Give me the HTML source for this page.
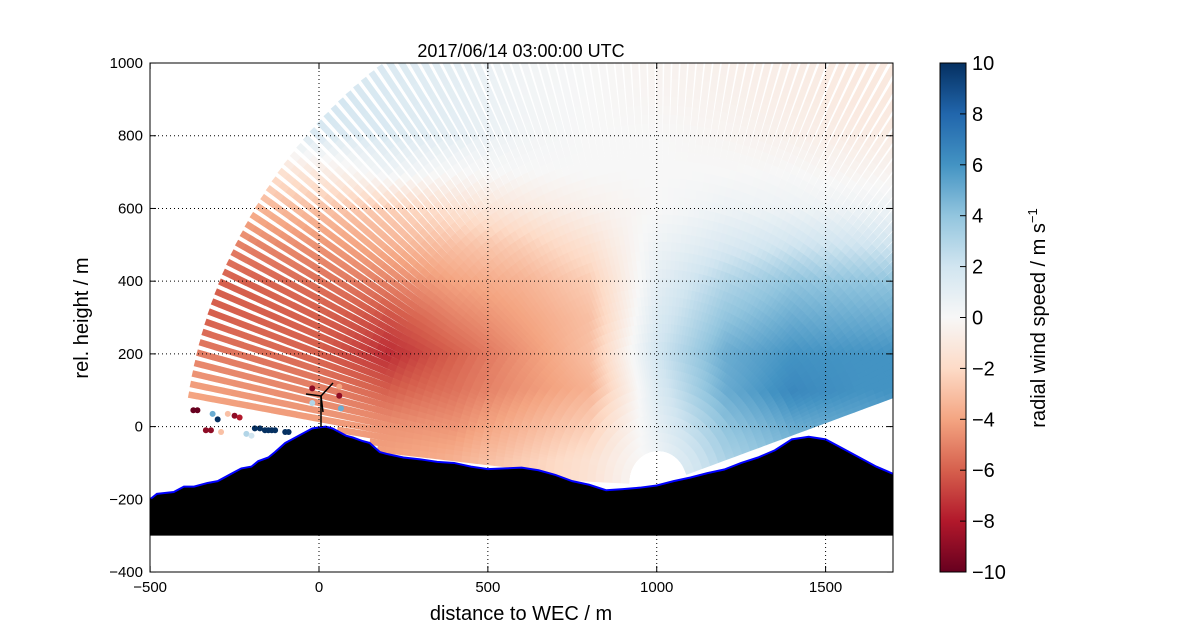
<!DOCTYPE html>
<html><head><meta charset="utf-8"><style>
body{margin:0;background:#fff;}
svg{display:block;font-family:"Liberation Sans",sans-serif;}
</style></head><body>
<svg id="chart" width="1200" height="636" viewBox="0 0 1200 636">
<defs>
<clipPath id="plotclip"><rect x="150" y="63" width="743" height="509"/></clipPath>
<linearGradient id="cbgrad" x1="0" y1="1" x2="0" y2="0">
<stop offset="0" stop-color="rgb(103,0,31)"/><stop offset="0.1" stop-color="rgb(178,24,43)"/>
<stop offset="0.2" stop-color="rgb(214,96,77)"/><stop offset="0.3" stop-color="rgb(244,165,130)"/>
<stop offset="0.4" stop-color="rgb(253,219,199)"/><stop offset="0.5" stop-color="rgb(247,247,247)"/>
<stop offset="0.6" stop-color="rgb(209,229,240)"/><stop offset="0.7" stop-color="rgb(146,197,222)"/>
<stop offset="0.8" stop-color="rgb(67,147,195)"/><stop offset="0.9" stop-color="rgb(33,102,172)"/>
<stop offset="1" stop-color="rgb(5,48,97)"/>
</linearGradient>
</defs>
<text x="521" y="57" font-size="18" text-anchor="middle">2017/06/14 03:00:00 UTC</text>
<g id="field" clip-path="url(#plotclip)"></g>
<g id="terrain" clip-path="url(#plotclip)"></g>
<g id="dots"></g>
<g id="turbine" stroke="#000" stroke-width="1.5">
<line x1="321" y1="427" x2="321" y2="396"/><line x1="321" y1="396" x2="333" y2="383"/><line x1="321" y1="396" x2="306" y2="394"/><line x1="321" y1="396" x2="323" y2="412"/>
</g>
<g id="grid"></g>
<rect x="150" y="63" width="743" height="509" fill="none" stroke="#000" stroke-width="1"/>
<g id="axes" font-size="15"></g>
<text x="521" y="620" font-size="20" text-anchor="middle">distance to WEC / m</text>
<text transform="translate(88,318) rotate(-90)" font-size="20" text-anchor="middle">rel. height / m</text>
<rect x="940" y="63" width="26" height="509" fill="url(#cbgrad)" stroke="#000" stroke-width="1"/>
<g id="cbticks" font-size="20"></g>
<text transform="translate(1045,318) rotate(-90)" font-size="20" text-anchor="middle">radial wind speed / m s<tspan dy="-8" font-size="13">−1</tspan></text>
</svg>
<script>
const xCols = [-400,-200,0,200,400,600,800,1000,1200,1400,1600];
const hRows = [-100,0,100,200,300,400,500,600,700,800,900,1000];
const windRows = [
[-3,-3.5,-4,-4,-3.5,-2.5,-1.5,0.5,3,4,4],
[-3.5,-3.8,-4,-4.5,-4.5,-3.5,-2.5,1,4,5,5],
[-4,-4.5,-5,-6,-5.5,-4.5,-3.5,1.5,5,6.5,6],
[-5,-5.5,-6,-7.5,-6,-4.5,-3,2,5,6,6],
[-6,-6,-6,-6.5,-5,-4,-3,1.5,4,5,5],
[-6,-6,-5.5,-5,-4,-3.5,-2.5,1,3,4,4],
[-5,-5,-4.5,-3.5,-3,-2.5,-1.5,0.5,1.5,2,2],
[-3.5,-3.5,-3,-2.5,-1.5,-1,-0.5,0,0.5,0.5,0.5],
[-2,-2,-1,0.5,0,0,0,0,0,0,-0.3],
[1,1,1.5,1.5,1,0.3,0,0,-0.2,-0.5,-0.8],
[1.5,1.5,2,1.5,1,0.3,0,-0.2,-0.4,-0.7,-1],
[1.5,1.5,1.5,1.5,1,0.3,0,-0.3,-0.5,-0.7,-1]
];
const scanOrigin = [1004,-152];
const scanAngles = [19,178];
const scanRange = 1400;
const terrainX = [-500,-480,-430,-400,-370,-330,-300,-270,-250,-230,-200,-180,-150,-130,-100,-80,-50,-20,0,20,40,60,80,100,130,150,180,200,250,300,350,400,450,500,550,600,650,700,750,800,850,900,950,1000,1050,1100,1150,1200,1250,1300,1350,1400,1450,1500,1550,1600,1650,1700];
const terrainH = [-200,-185,-180,-165,-165,-155,-150,-135,-125,-115,-110,-95,-85,-70,-45,-35,-20,-5,-2,0,-5,-15,-25,-30,-40,-45,-70,-75,-85,-90,-97,-100,-110,-117,-115,-113,-120,-133,-150,-160,-175,-172,-168,-162,-150,-140,-128,-118,-100,-85,-65,-35,-28,-35,-60,-85,-110,-130];
const dotX = [-372,-360,-335,-320,-315,-300,-290,-270,-250,-235,-215,-190,-175,-160,-150,-140,-130,-100,-90,-200,-20,60,65,-20,60];
const dotH = [45,45,-10,-10,35,20,-15,35,30,25,-20,-5,-5,-10,-10,-10,-10,-15,-15,-25,105,85,50,65,110];
const dotV = [-10,-10,-9,-9,5,10,-3,-3,-9,-8,3,10,10,10,10,10,10,10,10,2,-9,-9,5,3,-4];
const xTicks = [-500,0,500,1000,1500];
const yTicks = [-400,-200,0,200,400,600,800,1000];
const cbTicks = [-10,-8,-6,-4,-2,0,2,4,6,8,10];

const NS="http://www.w3.org/2000/svg";
const X = x => 319 + x*0.33773;
const Y = h => 426.6 - h*0.36357;
const cmapStops = [[103,0,31],[178,24,43],[214,96,77],[244,165,130],[253,219,199],[247,247,247],[209,229,240],[146,197,222],[67,147,195],[33,102,172],[5,48,97]];
function cmap(v){
  let t=(Math.max(-10,Math.min(10,v))+10)/20*10;
  let i=Math.min(9,Math.floor(t)), f=t-i;
  const a=cmapStops[i],b=cmapStops[i+1];
  return `rgb(${Math.round(a[0]+(b[0]-a[0])*f)},${Math.round(a[1]+(b[1]-a[1])*f)},${Math.round(a[2]+(b[2]-a[2])*f)})`;
}
function idx(arr,v){
  if(v<=arr[0]) return [0,0];
  if(v>=arr[arr.length-1]) return [arr.length-2,1];
  for(let i=0;i<arr.length-1;i++) if(v<=arr[i+1]) return [i,(v-arr[i])/(arr[i+1]-arr[i])];
}
function wind(x,h){
  const [i,fx]=idx(xCols,x), [j,fy]=idx(hRows,h);
  const a=windRows[j][i],b=windRows[j][i+1],c=windRows[j+1][i],d=windRows[j+1][i+1];
  return (a*(1-fx)+b*fx)*(1-fy)+(c*(1-fx)+d*fx)*fy;
}
function ground(x){
  const [i,f]=idx(terrainX,x);
  return terrainH[i]*(1-f)+terrainH[i+1]*f;
}
function el(tag,attrs,parent){const e=document.createElementNS(NS,tag);for(const k in attrs)e.setAttribute(k,attrs[k]);parent.appendChild(e);return e;}

// field rays
const field=document.getElementById('field');
for(let a=scanAngles[0]; a<=scanAngles[1]; a+=1.2){
  const rad=a*Math.PI/180, cx=Math.cos(rad), cy=Math.sin(rad);
  const g=el('g',{},field);
  
  
  for(let r=85;r<scanRange;r+=25){
    const rm=r+12.5;
    const xm=scanOrigin[0]+cx*rm, hm=scanOrigin[1]+cy*rm;
    if(hm < ground(xm)+3) break;
    el('line',{x1:X(scanOrigin[0]+cx*r),y1:Y(scanOrigin[1]+cy*r),x2:X(scanOrigin[0]+cx*(r+26)),y2:Y(scanOrigin[1]+cy*(r+26)),stroke:cmap(wind(xm,hm)),'stroke-width':6.5},g);
  }
}
// terrain
const terr=document.getElementById('terrain');
let pts=terrainX.map((x,i)=>X(x)+','+Y(terrainH[i]));
const poly=el('polygon',{points:pts.join(' ')+' '+X(1700)+','+Y(-300)+' '+X(-500)+','+Y(-300),fill:'#000'},terr);


const pl=el('polyline',{points:pts.join(' '),fill:'none',stroke:'#0000ff','stroke-width':2},terr);


// dots
const dots=document.getElementById('dots');
dotX.forEach((x,i)=>{
  const c=el('circle',{cx:X(x),cy:Y(dotH[i]),r:3,fill:cmap(dotV[i])},dots);
  
  
});
// grid and ticks
const grid=document.getElementById('grid'), axes=document.getElementById('axes');
xTicks.forEach(v=>{
  const x=X(v);
  if(v>-500){const g=el('line',{x1:x,y1:63,x2:x,y2:572,stroke:'#000','stroke-dasharray':'1,3','stroke-width':1},grid);
  }
  el('line',{x1:x,y1:572,x2:x,y2:566,stroke:'#000'},axes);
  el('line',{x1:x,y1:63,x2:x,y2:69,stroke:'#000'},axes);
  const t=el('text',{x:x,y:592,'text-anchor':'middle'},axes);
  t.textContent=v<0?'−'+(-v):v;
  
  
});
yTicks.forEach(v=>{
  const y=Y(v);
  if(v>-400&&v<1000){const g=el('line',{x1:150,y1:y,x2:893,y2:y,stroke:'#000','stroke-dasharray':'1,3','stroke-width':1},grid);
  }
  el('line',{x1:150,y1:y,x2:156,y2:y,stroke:'#000'},axes);
  el('line',{x1:893,y1:y,x2:887,y2:y,stroke:'#000'},axes);
  const t=el('text',{x:143,y:y+5,'text-anchor':'end'},axes);
  t.textContent=v<0?'−'+(-v):v;
  
  
});
const cbt=document.getElementById('cbticks');
cbTicks.forEach(v=>{
  const y=572-(v+10)/20*509;
  el('line',{x1:960,y1:y,x2:966,y2:y,stroke:'#000'},cbt);
  const t=el('text',{x:972,y:y+7},cbt);
  t.textContent=v<0?'−'+(-v):v;
  
  
});
</script>
</body></html>
